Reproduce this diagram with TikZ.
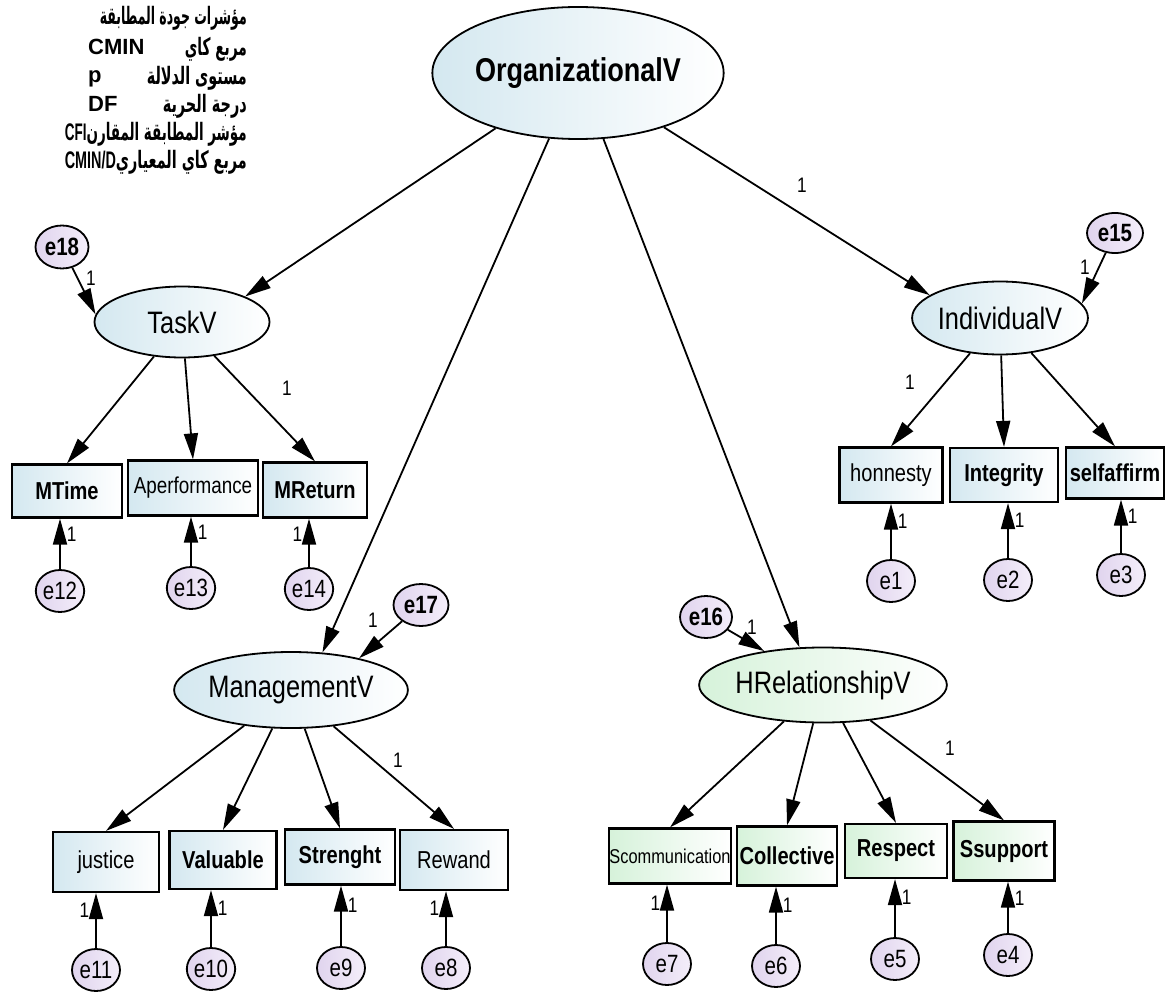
\documentclass[tikz,border=0pt]{standalone}
\usepackage{graphicx}
\usepackage{fontspec}
\usetikzlibrary{arrows.meta,shapes.geometric}
\setmainfont{Liberation Sans}
\newfontfamily\nar[FakeStretch=0.82]{Liberation Sans}
\newfontfamily\arabicfont[Script=Arabic]{DejaVu Sans}
\newfontfamily\latinb{Liberation Sans}
\TeXXeTstate=1
% one legend line brought to a given width
\newcommand\legendline[2]{\resizebox{#1}{\height}{#2}}

\definecolor{errL}{RGB}{224,212,238}
\definecolor{errR}{RGB}{244,238,250}
\definecolor{bluL}{RGB}{212,232,240}
\definecolor{grnL}{RGB}{214,242,218}

\tikzset{
  lat/.style={ellipse, draw, line width=1.8pt, inner sep=0pt,
    left color=bluL, right color=white,
    font=\nar\fontsize{31}{33}\selectfont},
  latg/.style={lat, left color=grnL},
  err/.style={ellipse, draw, line width=1.8pt, inner sep=0pt,
    minimum width=48pt, minimum height=42pt,
    left color=errL, right color=errR,
    font=\nar\fontsize{25}{27}\selectfont},
  obs/.style={rectangle, draw, line width=2.2pt, inner sep=0pt,
    left color=bluL, right color=white,
    font=\nar\fontsize{24.5}{26}\selectfont},
  obsg/.style={obs, left color=grnL},
  arr/.style={line width=1.8pt, -{Triangle[length=26pt,width=14pt]}},
  one/.style={inner sep=0pt, font=\nar\fontsize{21}{22}\selectfont},
  oneR/.style={one, pos=0.68, anchor=west, xshift=6pt},
  oneL/.style={one, pos=0.68, anchor=east, xshift=-6pt},
  artxt/.style={inner sep=0pt, anchor=east,
    font=\arabicfont\bfseries\fontsize{24}{26}\selectfont},
  lattxt/.style={inner sep=0pt, anchor=west,
    font=\latinb\bfseries\fontsize{22}{24}\selectfont},
}

\begin{document}
\begin{tikzpicture}[x=1pt, y=-1pt]
\useasboundingbox (0,0) rectangle (1167,992);

% fit indices legend
\node[artxt] (t1) at (247,18) {\legendline{147pt}{\beginR مؤشرات جودة المطابقة\endR}};
\node[artxt] (t2) at (247,49) {\legendline{62pt}{\beginR مربع كاي\endR}};
\node[lattxt] (t2l) at (88,47) {CMIN};
\node[artxt] (t3) at (247,78) {\legendline{100pt}{\beginR مستوى الدلالة\endR}};
\node[lattxt] (t3l) at (88,79) {p};
\node[artxt] (t4) at (247,106) {\legendline{84pt}{\beginR درجة الحرية\endR}};
\node[lattxt] (t4l) at (88,104) {DF};
\node[artxt] (t5) at (247,134) {\legendline{182pt}{\beginR مؤشر المطابقة المقارن\beginL{\latinb\fontsize{24}{26}\selectfont CFI}\endL\endR}};
\node[artxt] (t6) at (247,162) {\legendline{182pt}{\beginR مربع كاي المعياري\beginL{\latinb\fontsize{24}{26}\selectfont CMIN/D}\endL\endR}};

% latent variables
\node[lat, minimum width=207pt, minimum height=132pt,
      font=\nar\bfseries\fontsize{33}{35}\selectfont] (org) at (578,73) {OrganizationalV};
\node[lat, minimum width=175pt, minimum height=71pt] (task) at (182,322) {TaskV};
\node[lat, minimum width=165pt, minimum height=73pt] (ind) at (1000,318) {IndividualV};
\node[lat, minimum width=172pt, minimum height=76pt] (mgt) at (291,690) {ManagementV};
\node[latg, minimum width=167pt, minimum height=75pt] (hr) at (823,685) {HRelationshipV};

% disturbances of the latent variables
\node[err, minimum width=53pt, minimum height=43pt] (e18) at (62,247) {\bfseries e18};
\node[err, minimum width=56pt, minimum height=40pt] (e15) at (1115,233) {\bfseries e15};
\node[err, minimum width=55pt, minimum height=42pt] (e17) at (421,605) {\bfseries e17};
\node[err, minimum width=52pt, minimum height=42pt] (e16) at (706,617) {\bfseries e16};

% observed indicators
\node[obs, minimum width=110pt, minimum height=53pt] (mtime) at (67,491) {\bfseries MTime};
\node[obs, minimum width=130pt, minimum height=55pt,
      font=\nar\fontsize{23}{25}\selectfont] (aperf) at (193,488) {Aperformance};
\node[obs, minimum width=104pt, minimum height=55pt] (mret) at (315,490) {\bfseries MReturn};
\node[obs, minimum width=103pt, minimum height=55pt] (hon) at (891,475) {honnesty};
\node[obs, minimum width=108pt, minimum height=54pt] (integ) at (1004,475) {\bfseries Integrity};
\node[obs, minimum width=98pt, minimum height=51pt] (selfa) at (1115,473) {\bfseries selfaffirm};
\node[obs, minimum width=106pt, minimum height=60pt] (just) at (106,862) {justice};
\node[obs, minimum width=107pt, minimum height=58pt] (valu) at (223,860) {\bfseries Valuable};
\node[obs, minimum width=110pt, minimum height=55pt] (stren) at (340,857) {\bfseries Strenght};
\node[obs, minimum width=108pt, minimum height=60pt] (rew) at (454,860) {Rewand};
\node[obsg, minimum width=121pt, minimum height=55pt,
      font=\nar\fontsize{20}{22}\selectfont] (scom) at (670,856) {Scommunication};
\node[obsg, minimum width=100pt, minimum height=59pt] (coll) at (787,856) {\bfseries Collective};
\node[obsg, minimum width=102pt, minimum height=54pt] (resp) at (896,851) {\bfseries Respect};
\node[obsg, minimum width=101pt, minimum height=59pt] (ssup) at (1004,851) {\bfseries Ssupport};

% measurement errors
\node[err] (e12) at (60,591) {e12};
\node[err] (e13) at (191,588) {e13};
\node[err] (e14) at (309,589) {e14};
\node[err] (e1) at (891,581) {e1};
\node[err] (e2) at (1008,580) {e2};
\node[err] (e3) at (1121,575) {e3};
\node[err] (e11) at (96,970) {e11};
\node[err] (e10) at (211,969) {e10};
\node[err] (e9) at (341,968) {e9};
\node[err] (e8) at (446,968) {e8};
\node[err] (e7) at (667,964) {e7};
\node[err] (e6) at (776,966) {e6};
\node[err] (e5) at (895,959) {e5};
\node[err] (e4) at (1008,955) {e4};

% structural paths
\draw[arr] (org) -- (task.22);
\draw[arr] (org) -- (mgt.50);
\draw[arr] (org) -- (hr.122);
\draw[arr] (org) -- (ind.162);
\draw[arr] (e18) -- (task.175);
\draw[arr] (e15) -- (ind.10);
\draw[arr] (e17) -- (mgt.25);
\draw[arr] (e16) -- (hr.150);

% loadings
\draw[arr] (task) -- (mtime.north);
\draw[arr] (task) -- (aperf.north);
\draw[arr] (task) -- (mret.north);
\draw[arr] (ind) -- (hon.north);
\draw[arr] (ind) -- (integ.north);
\draw[arr] (ind) -- (selfa.north);
\draw[arr] (mgt) -- (just.north);
\draw[arr] (mgt) -- (valu.north);
\draw[arr] (mgt) -- (stren.north);
\draw[arr] (mgt) -- (rew.north);
\draw[arr] (hr) -- (scom.north);
\draw[arr] (hr) -- (coll.north);
\draw[arr] (hr) -- (resp.north);
\draw[arr] (hr) -- (ssup.north);

% error paths with their fixed weights
\draw[arr] (e12) -- (e12 |- mtime.south) node[oneR] (l10) {1};
\draw[arr] (e13) -- (e13 |- aperf.south) node[oneR] (l11) {1};
\draw[arr] (e14) -- (e14 |- mret.south) node[oneL] (l12) {1};
\draw[arr] (e1) -- (e1 |- hon.south) node[oneR] (l13) {1};
\draw[arr] (e2) -- (e2 |- integ.south) node[oneR] (l14) {1};
\draw[arr] (e3) -- (e3 |- selfa.south) node[oneR] (l15) {1};
\draw[arr] (e11) -- (e11 |- just.south) node[oneL] (l16) {1};
\draw[arr] (e10) -- (e10 |- valu.south) node[oneR] (l17) {1};
\draw[arr] (e9) -- (e9 |- stren.south) node[oneR] (l18) {1};
\draw[arr] (e8) -- (e8 |- rew.south) node[oneL] (l19) {1};
\draw[arr] (e7) -- (e7 |- scom.south) node[oneL] (l20) {1};
\draw[arr] (e6) -- (e6 |- coll.south) node[oneR] (l21) {1};
\draw[arr] (e5) -- (e5 |- resp.south) node[oneR] (l22) {1};
\draw[arr] (e4) -- (e4 |- ssup.south) node[oneR] (l23) {1};

% other fixed parameter labels
\node[one] (l1) at (802,185) {1};
\node[one] (l2) at (91,278) {1};
\node[one] (l3) at (1085,267) {1};
\node[one] (l4) at (373,620) {1};
\node[one] (l5) at (752,627) {1};
\node[one] (l6) at (287,388) {1};
\node[one] (l7) at (910,382) {1};
\node[one] (l8) at (398,760) {1};
\node[one] (l9) at (950,748) {1};
\end{tikzpicture}
\end{document}
